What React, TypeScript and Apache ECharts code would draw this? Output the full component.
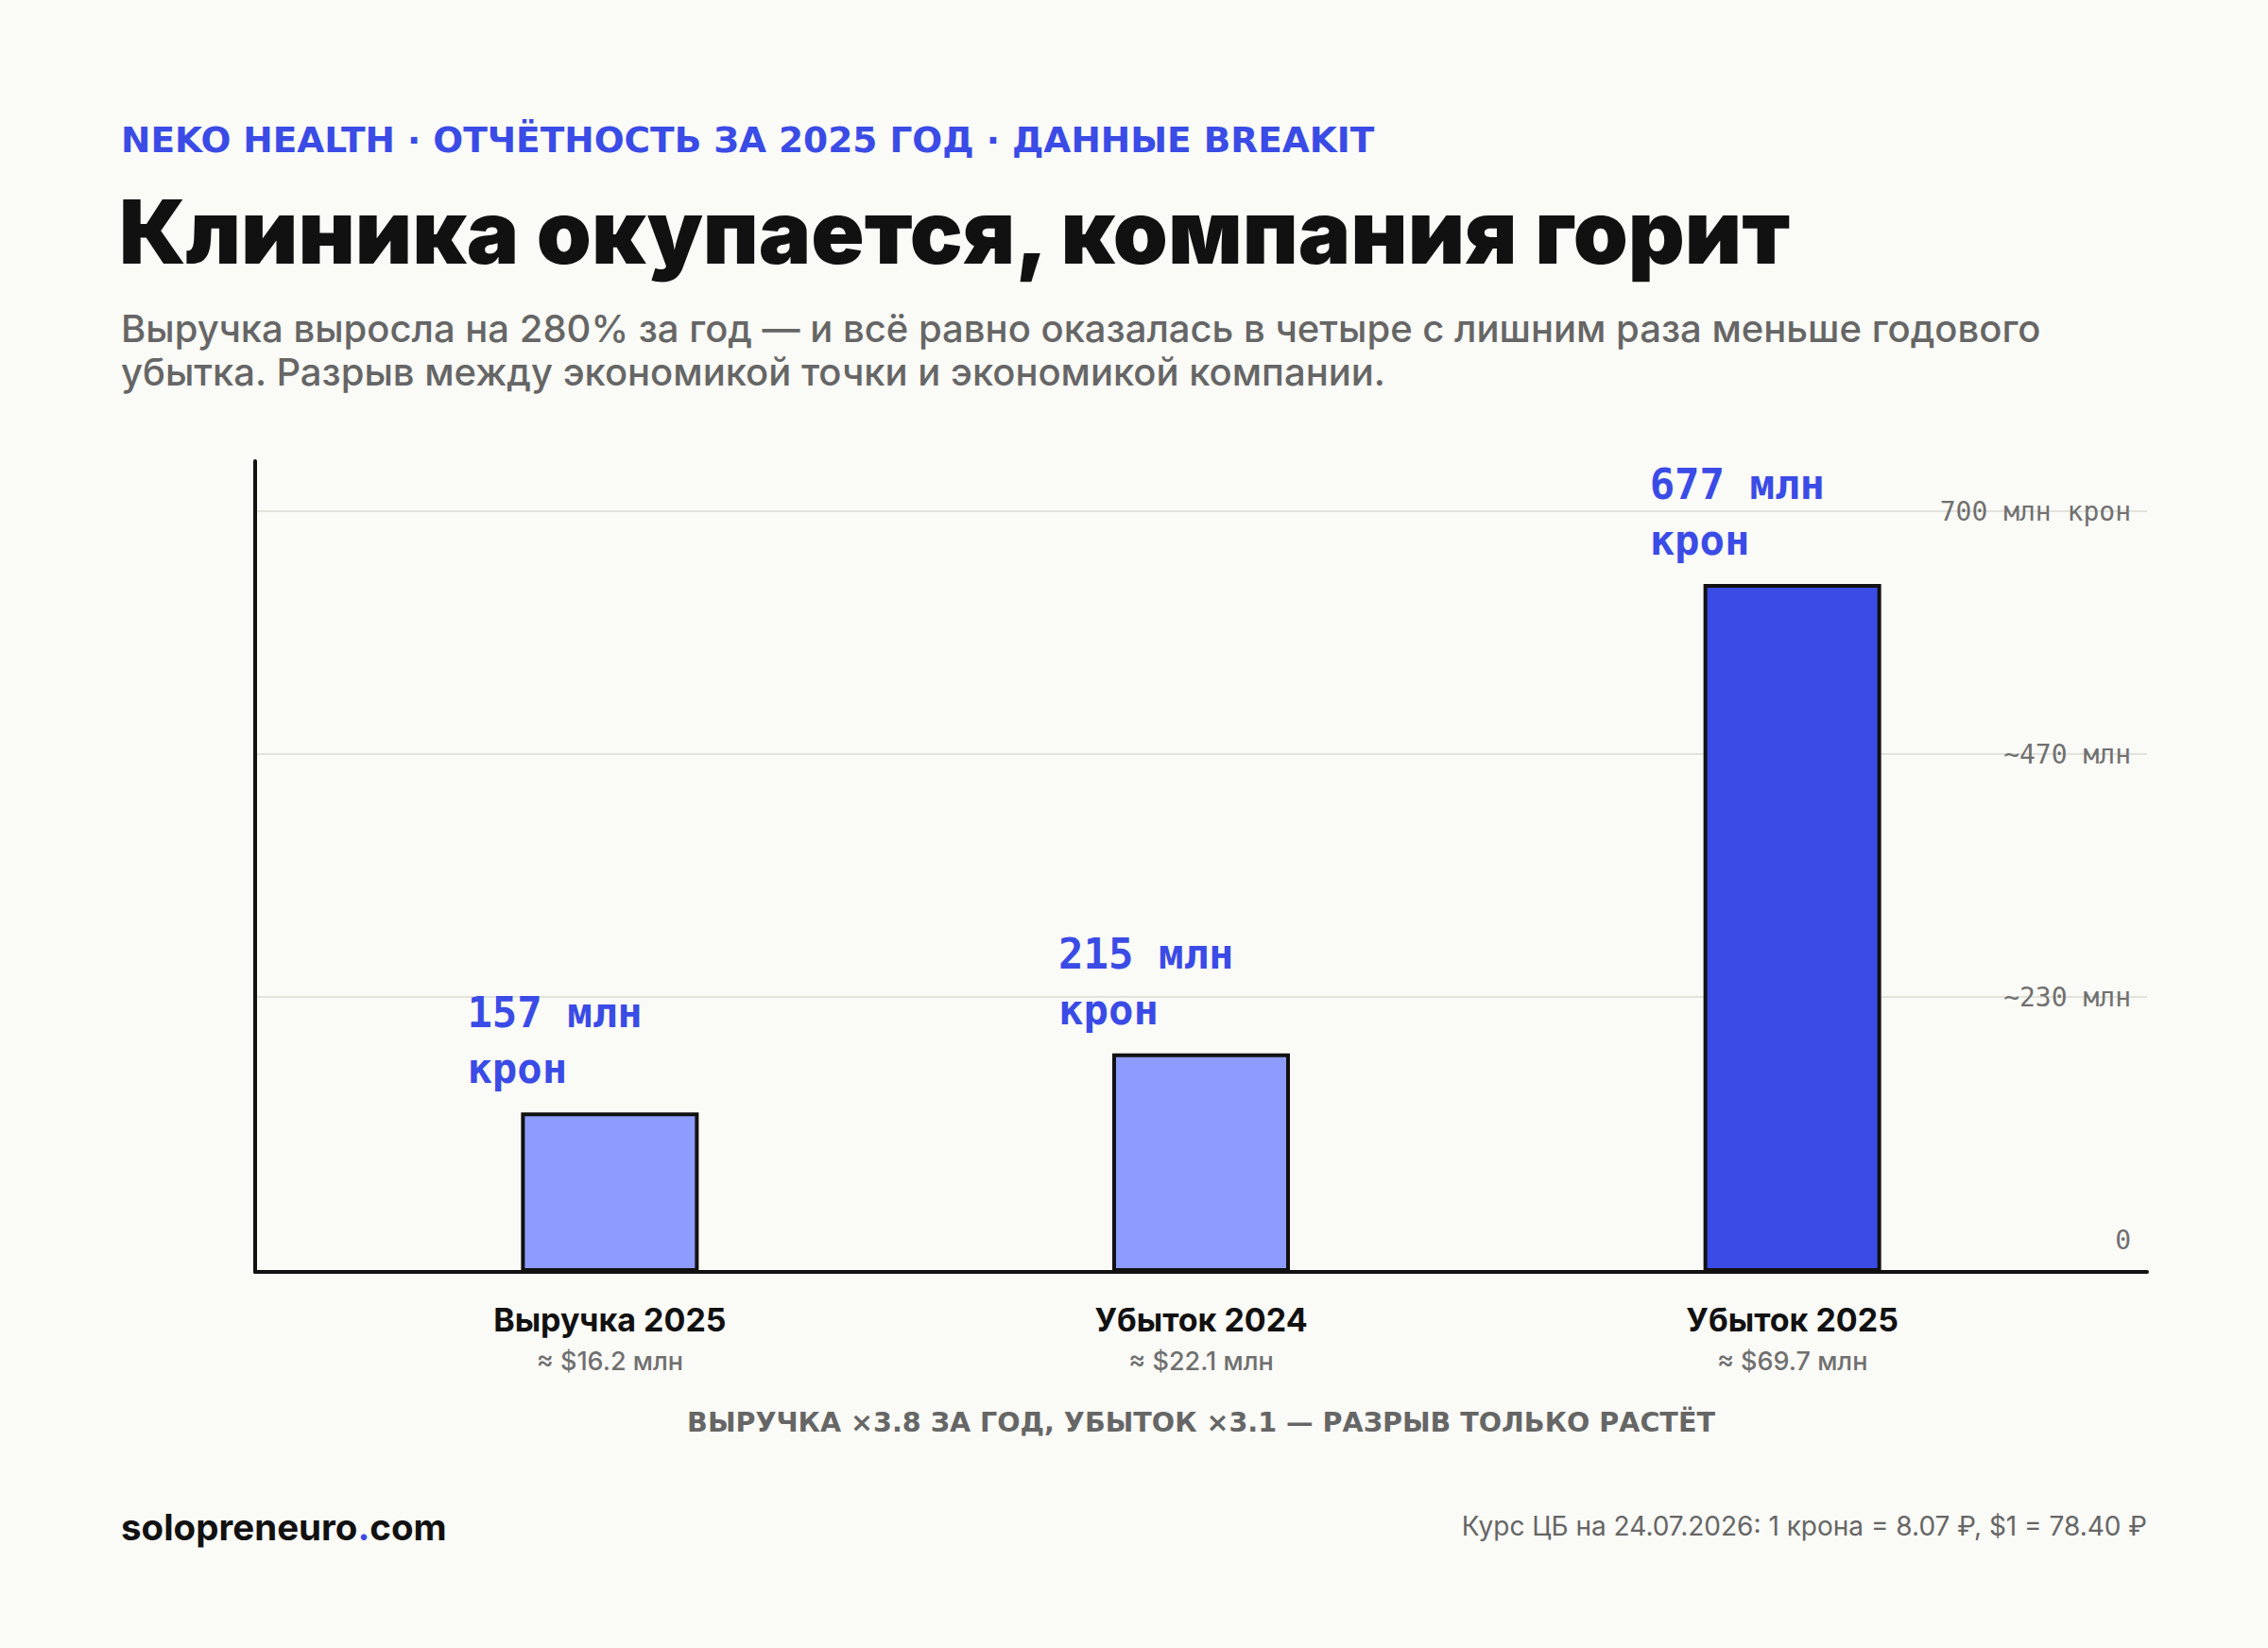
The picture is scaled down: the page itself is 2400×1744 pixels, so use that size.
import React, { useEffect, useRef } from 'react';
import * as echarts from 'echarts';

const categories = ['Выручка 2025', 'Убыток 2024', 'Убыток 2025'];
const valuesSEK = [157, 215, 677];
const usdNotes = ['≈ $16.2 млн', '≈ $22.1 млн', '≈ $69.7 млн'];
const tickLabels = ['0', '~230 млн', '~470 млн', '700 млн крон'];
const tickMax = 700;

const kicker = 'NEKO HEALTH · ОТЧЁТНОСТЬ ЗА 2025 ГОД · ДАННЫЕ BREAKIT';
const title = 'Клиника окупается, компания горит';
const subtitle =
  'Выручка выросла на 280% за год — и всё равно оказалась в четыре с лишним раза меньше годового\nубытка. Разрыв между экономикой точки и экономикой компании.';
const caption = 'ВЫРУЧКА ×3.8 ЗА ГОД, УБЫТОК ×3.1 — РАЗРЫВ ТОЛЬКО РАСТЁТ';
const footnote = 'Курс ЦБ на 24.07.2026: 1 крона = 8.07 ₽, $1 = 78.40 ₽';

const BG = '#FAFAF6';
const BLUE = '#3A4BE6';
const LIGHT = '#8E9CFF';
const INK = '#111111';
const GRAY = '#666666';
const SANS = 'Inter, "Noto Sans", sans-serif';
const WIDE = '"DejaVu Sans", Inter, sans-serif';
const MONO = '"DejaVu Sans Mono", "Liberation Mono", monospace';

export default function App() {
  const ref = useRef<HTMLDivElement>(null);
  useEffect(() => {
    const chart = echarts.init(ref.current!, null, { renderer: 'svg' });
    const maxIdx = valuesSEK.indexOf(Math.max(...valuesSEK));
    const option = {
      animation: false,
      backgroundColor: BG,
      grid: [
        { left: 270, right: 128, top: 488, bottom: 398 },
        { left: 270, right: 128, top: 541, bottom: 432 },
      ],
      xAxis: [
        {
          gridIndex: 0,
          type: 'value',
          min: -0.6,
          max: 2.6,
          axisLine: { show: true, onZero: false, lineStyle: { color: INK, width: 4 } },
          axisTick: { show: false },
          splitLine: { show: false },
          axisLabel: {
            customValues: categories.map((_, i) => i),
            margin: 28,
            formatter: (v: number) => {
              const i = Math.round(v);
              return `{a|${categories[i]}}\n{b|${usdNotes[i]}}`;
            },
            rich: {
              a: { fontFamily: SANS, fontWeight: 700, fontSize: 34, color: INK, lineHeight: 44 },
              b: { fontFamily: SANS, fontWeight: 500, fontSize: 27, color: '#707070', lineHeight: 44 },
            },
          },
        },
        { gridIndex: 1, type: 'value', min: 0, max: 1, show: false },
      ],
      yAxis: [
        {
          gridIndex: 0,
          type: 'value',
          min: 0,
          max: 798,
          axisLine: { show: true, onZero: false, lineStyle: { color: INK, width: 4 } },
          axisTick: { show: false },
          axisLabel: { show: false },
          splitLine: { show: false },
        },
        {
          gridIndex: 1,
          type: 'value',
          position: 'right',
          min: 0,
          max: tickMax,
          interval: tickMax / 3,
          axisLine: { show: false },
          axisTick: { show: false },
          axisLabel: {
            inside: true,
            margin: 17,
            fontFamily: MONO,
            fontSize: 28,
            color: '#707070',
            formatter: (v: number) => tickLabels[Math.round(v / (tickMax / 3))],
          },
          splitLine: { show: true, showMinLine: false, lineStyle: { color: '#E3E3DD', width: 2 } },
        },
      ],
      series: [
        {
          type: 'bar',
          xAxisIndex: 0,
          yAxisIndex: 0,
          barWidth: 188,
          data: valuesSEK.map((v, i) => [i, v]),
          itemStyle: {
            borderColor: INK,
            borderWidth: 4,
            color: (p: any) => (p.dataIndex === maxIdx ? BLUE : LIGHT),
          },
          label: {
            show: true,
            position: 'top',
            distance: 17,
            align: 'left',
            offset: [-151, 0],
            formatter: (p: any) => `${p.value[1]} млн\nкрон`,
            fontFamily: MONO,
            fontWeight: 'bold',
            fontSize: 44,
            lineHeight: 59,
            color: BLUE,
          },
        },
      ],
      graphic: [
        {
          type: 'text',
          x: 128,
          y: 148,
          style: { text: kicker, fill: BLUE, fontFamily: WIDE, fontWeight: 700, fontSize: 37.5, align: 'left', verticalAlign: 'middle' },
        },
        {
          type: 'text',
          x: 126,
          y: 245,
          style: { text: title, fill: INK, fontFamily: SANS, fontWeight: 900, fontSize: 93, align: 'left', verticalAlign: 'middle' },
        },
        {
          type: 'text',
          x: 128,
          y: 370,
          style: { text: subtitle, fill: GRAY, fontFamily: SANS, fontWeight: 500, fontSize: 40, lineHeight: 46, align: 'left', verticalAlign: 'middle' },
        },
        {
          type: 'text',
          x: 1271,
          y: 1505,
          style: { text: caption, fill: GRAY, fontFamily: WIDE, fontWeight: 700, fontSize: 28.6, align: 'center', verticalAlign: 'middle' },
        },
        {
          type: 'text',
          x: 128,
          y: 1616,
          style: {
            text: '{a|solopreneuro}{b|.}{a|com}',
            align: 'left',
            verticalAlign: 'middle',
            rich: {
              a: { fontFamily: SANS, fontWeight: 700, fontSize: 38.5, fill: INK, color: INK },
              b: { fontFamily: SANS, fontWeight: 700, fontSize: 38.5, fill: BLUE, color: BLUE },
            },
          },
        },
        {
          type: 'text',
          x: 2272,
          y: 1615,
          style: { text: footnote, fill: GRAY, fontFamily: SANS, fontWeight: 400, fontSize: 28, align: 'right', verticalAlign: 'middle' },
        },
      ],
    };
    chart.setOption(option as any);
    return () => chart.dispose();
  }, []);
  return <div ref={ref} style={{ position: 'absolute', left: 0, top: 0, width: 2400, height: 1744 }} />;
}
